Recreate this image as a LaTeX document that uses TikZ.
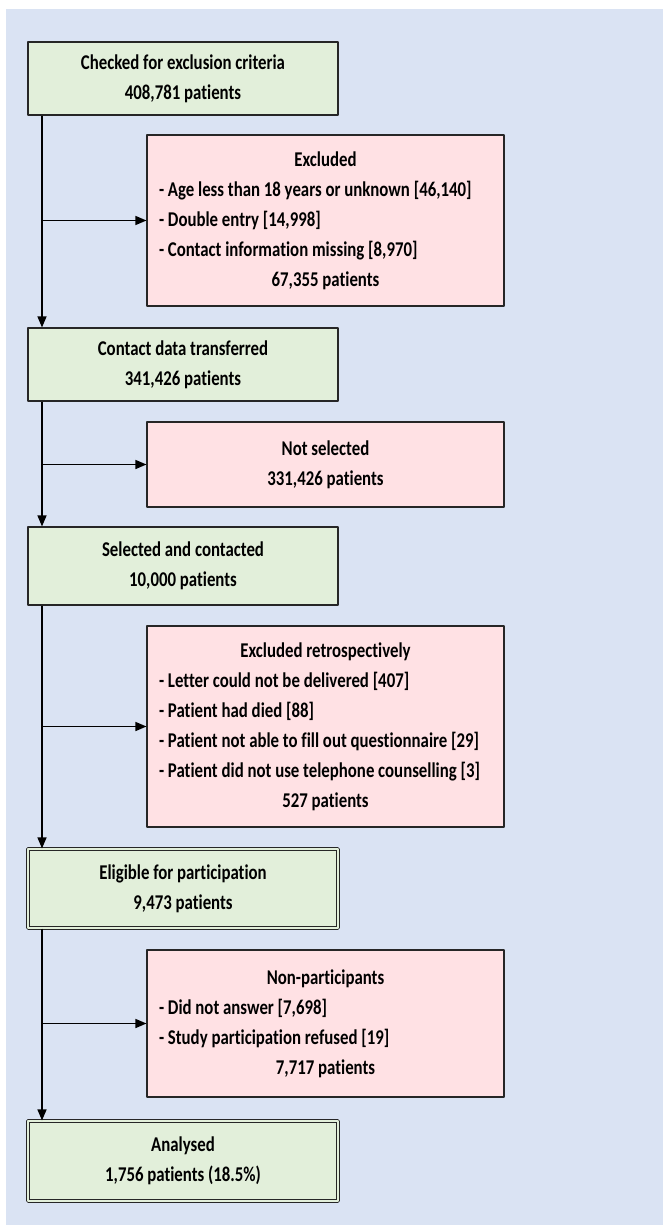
\documentclass[tikz,border=0pt]{standalone}
\usepackage{fontspec}
\setmainfont{Carlito}[FakeStretch=0.8, Ligatures=NoCommon]
\usetikzlibrary{arrows.meta}
\definecolor{bgblue}{HTML}{DAE3F3}
\definecolor{stagegreen}{HTML}{E2EFDA}
\definecolor{droppink}{HTML}{FFE1E4}
\newcommand{\boxhead}[1]{{\centering #1\par}}
\tikzset{
	stage/.style={draw=black!85, line width=1.1pt, fill=stagegreen, minimum width=310pt, minimum height=73pt, align=center, inner sep=0pt},
	final/.style={stage, double=stagegreen, double distance=1.4pt},
	dropbox/.style={draw=black!85, line width=1.1pt, fill=droppink, text width=333pt, inner xsep=12pt, inner ysep=0pt, align=left,
		execute at begin node={\spaceskip=0pt\xspaceskip=0pt\relax}},
	flow/.style={line width=1.4pt, ->}
}
\begin{document}
\begin{tikzpicture}[x=1pt,y=-1pt,font=\fontsize{21}{30}\selectfont\bfseries,line join=round,>={Triangle[length=11pt,width=9pt]}]
				\def\trunk{42}
				\useasboundingbox (0,0) rectangle (663,1225);
				\fill[bgblue] (6,9) rectangle (663,1225);
				\coordinate (trunk) at (\trunk,0);
				\node[stage] (g1) at (183,78.5) {Checked for exclusion criteria\\408,781 patients};
				\node[dropbox, minimum height=171pt] (p1) at (325.5,220.5) {\boxhead{Excluded}
					- Age less than 18 years or unknown [46,140]\par
					- Double entry [14,998]\par
					- Contact information missing [8,970]\par
					\boxhead{67,355 patients}};
				\node[stage] (g2) at (183,364.5) {Contact data transferred\\341,426 patients};
				\node[dropbox, minimum height=85pt] (p2) at (325.5,464.5) {\boxhead{Not selected}
					\boxhead{331,426 patients}};
				\node[stage, minimum height=78pt] (g3) at (183,566) {Selected and contacted\\10,000 patients};
				\node[dropbox, minimum height=201pt] (p3) at (325.5,726.5) {\boxhead{Excluded retrospectively}
					- Letter could not be delivered [407]\par
					- Patient had died [88]\par
					- Patient not able to fill out questionnaire [29]\par
					- Patient did not use telephone counselling [3]\par
					\boxhead{527 patients}};
				\node[final, minimum height=79pt] (g4) at (183,888.5) {Eligible for participation\\9,473 patients};
				\node[dropbox, minimum height=147pt] (p4) at (325.5,1023.5) {\boxhead{Non-participants}
					- Did not answer [7,698]\par
					- Study participation refused [19]\par
					\boxhead{7,717 patients}};
				\node[final, minimum height=80pt] (g5) at (183,1161) {Analysed\\1,756 patients (18.5\%)};
				\foreach \a/\b in {g1/g2,g2/g3,g3/g4,g4/g5}
					\draw[flow] (\a.south -| trunk) -- (\b.north -| trunk);
				\foreach \p in {p1,p2,p3,p4}
					\draw[flow] (trunk |- \p.west) -- (\p.west);
			\end{tikzpicture}
\end{document}
